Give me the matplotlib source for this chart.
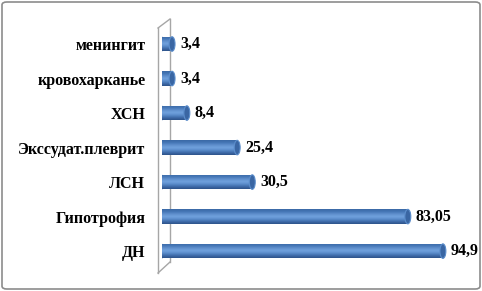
import matplotlib
matplotlib.use("Agg")
import matplotlib.pyplot as plt
import numpy as np
from matplotlib.patches import Ellipse, FancyBboxPatch
from matplotlib.lines import Line2D
from matplotlib.colors import LinearSegmentedColormap

categories = ["ДН", "Гипотрофия", "ЛСН", "Экссудат.плеврит", "ХСН", "кровохарканье", "менингит"]
values = [94.9, 83.05, 30.5, 25.4, 8.4, 3.4, 3.4]
value_labels = ["94,9", "83,05", "30,5", "25,4", "8,4", "3,4", "3,4"]

W, H = 482, 291
fig = plt.figure(figsize=(W / 100, H / 100), dpi=100)
fig.patch.set_facecolor("white")

fig.patches.append(FancyBboxPatch((2 / W, 2 / H), (W - 4) / W, (H - 4) / H,
                                  boxstyle="round,pad=0,rounding_size=0.01",
                                  transform=fig.transFigure, fill=False,
                                  edgecolor="#8c8c8c", linewidth=1.2))

ax = fig.add_axes([162 / W, 1 - 277 / H, 296 / W, (277 - 26.75) / H])
ax.set_xlim(0, 100)
ax.set_ylim(-0.75, 6.5)
for s in ax.spines.values():
    s.set_visible(False)
ax.set_xticks([])
ypos = list(range(len(categories)))
ax.set_yticks(ypos)
ax.set_yticklabels(categories, family="Liberation Serif", fontweight="bold", fontsize=11.5)
ax.tick_params(axis="y", length=0, pad=12)
ax.patch.set_alpha(0)

wall_col = "#a6a6a6"
segs = [((158, 28), (158, 273)), ((170, 19), (170, 262)),
        ((158, 28), (170, 19)), ((158, 273), (170, 262))]
for (x0, y0), (x1, y1) in segs:
    ax.add_line(Line2D([x0 / W, x1 / W], [1 - y0 / H, 1 - y1 / H], transform=fig.transFigure,
                       color=wall_col, lw=1, clip_on=False, zorder=0.5))

bh = 0.42
cap_w = 2.0
cmap = LinearSegmentedColormap.from_list(
    "cyl", ["#2d5289", "#3f6cab", "#5b8dcb", "#72a3de", "#5f8fcc", "#4577b6", "#3a68a5"])
grad = np.linspace(0, 1, 64).reshape(-1, 1)

bars = ax.barh(ypos, values, height=bh, color="#4a7ebb", edgecolor="none", zorder=2)
for bar, y, v, lab in zip(bars, ypos, values, value_labels):
    im = ax.imshow(grad, cmap=cmap, aspect="auto", origin="lower",
                   extent=(0, v, y - bh / 2, y + bh / 2), zorder=2.05, interpolation="bicubic")
    im.set_clip_path(bar)
    ax.add_patch(Ellipse((0, y), cap_w, bh, facecolor="#3f6cab", edgecolor="none", zorder=1.9))
    ax.add_patch(Ellipse((v, y), cap_w, bh, facecolor="#3a66a3", edgecolor="#5b8dcb",
                         linewidth=0.8, zorder=2.2))
    ax.annotate(lab, xy=(v + cap_w / 2, y), xytext=(3.5, 0), textcoords="offset points",
                ha="left", va="center", family="Liberation Serif", fontweight="bold",
                fontsize=11.5, color="black")

ax.set_xlim(0, 100)
ax.set_ylim(-0.75, 6.5)

fig.savefig("out.png", dpi=100)
